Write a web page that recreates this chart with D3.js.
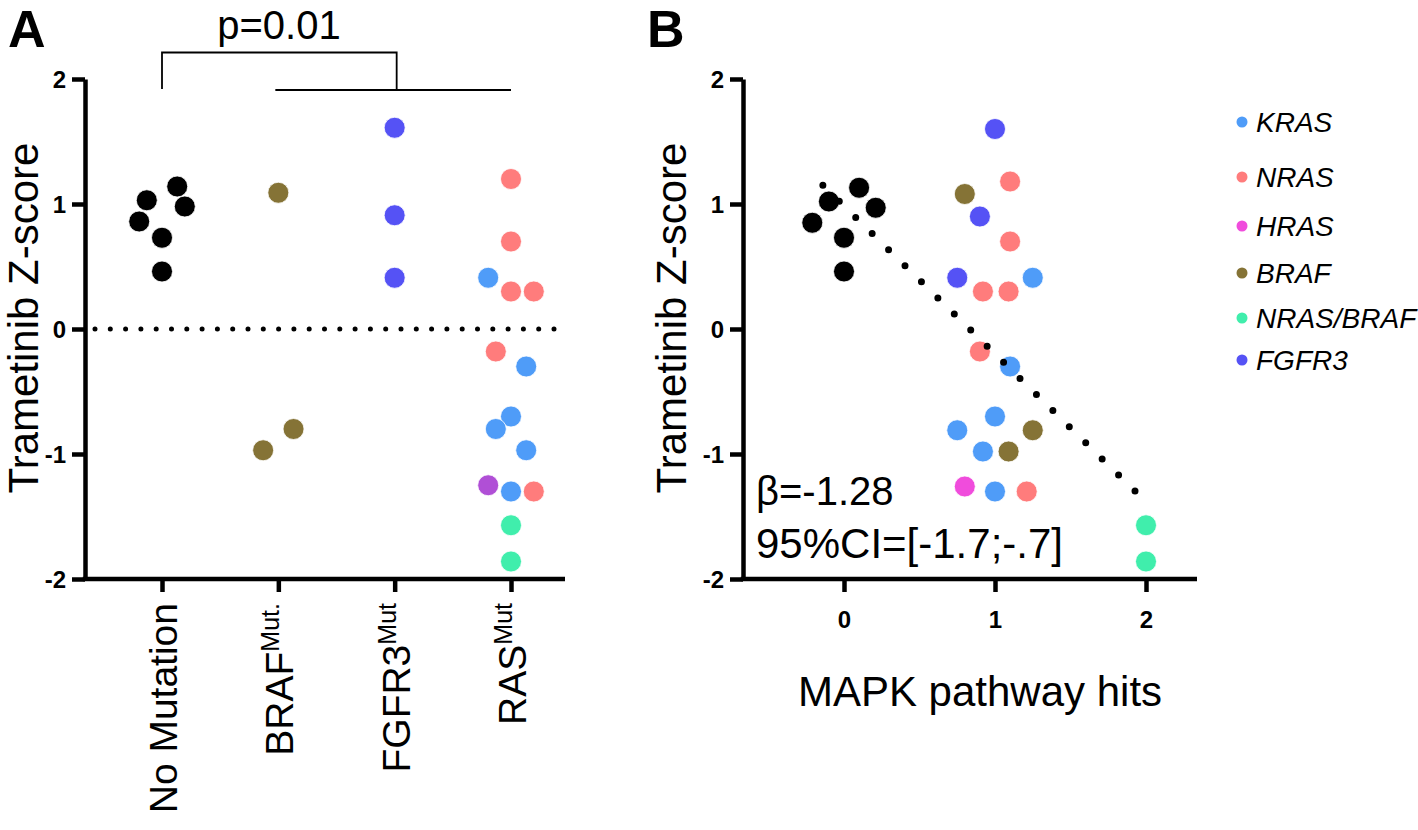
<!DOCTYPE html>
<html>
<head>
<meta charset="utf-8">
<script src="https://cdn.jsdelivr.net/npm/d3@7"></script>
<style>
  html, body { margin: 0; padding: 0; background: #fff; }
  svg { display: block; font-family: "Liberation Sans", Arial, sans-serif; }
</style>
</head>
<body>
<svg id="chart" width="1418" height="830"></svg>
<script>
// ---------------- DATA ----------------
const categoriesA = ["No Mutation", "BRAF", "FGFR3", "RAS"];
const categorySup = ["", "Mut.", "Mut", "Mut"];
const yTicks = [-2, -1, 0, 1, 2];
const xTicksB = [0, 1, 2];

// Panel A: group, within-group dodge slot, Z-score, gene
const groupA  = ["No Mutation","No Mutation","No Mutation","No Mutation","No Mutation","No Mutation",
                 "BRAF","BRAF","BRAF",
                 "FGFR3","FGFR3","FGFR3",
                 "RAS","RAS","RAS","RAS","RAS","RAS","RAS","RAS","RAS","RAS","RAS","RAS","RAS","RAS","RAS"];
const dodgeA  = [-2, 2, 3, -3, 0, 0,
                 0, 2, -2,
                 0, 0, 0,
                 0, 0, -3, 0, 3, -2, 2, 0, -2, 2, -3, 0, 3, 0, 0];
const zA      = [1.03, 1.14, 0.98, 0.86, 0.73, 0.46,
                 1.09, -0.80, -0.97,
                 1.61, 0.91, 0.41,
                 1.20, 0.70, 0.41, 0.30, 0.30, -0.18, -0.30, -0.70, -0.80, -0.97, -1.25, -1.30, -1.30, -1.57, -1.86];
const geneA   = ["None","None","None","None","None","None",
                 "BRAF","BRAF","BRAF",
                 "FGFR3","FGFR3","FGFR3",
                 "NRAS","NRAS","KRAS","NRAS","NRAS","NRAS","KRAS","KRAS","KRAS","KRAS","HRAS_A","KRAS","NRAS","NRAS/BRAF","NRAS/BRAF"];

// Panel B: MAPK pathway hits (jittered), Z-score, gene
const hitsB   = [-0.21, -0.10, 0.10, 0.21, 0.00, 0.00,
                 1.00, 1.10, 0.80, 0.90, 1.10, 0.75, 0.92, 1.09, 1.25,
                 0.90, 1.10, 1.00, 0.75, 1.25, 0.92, 1.09, 0.80, 1.00, 1.21,
                 2.00, 2.00];
const zB      = [0.85, 1.02, 1.13, 0.97, 0.73, 0.46,
                 1.60, 1.18, 1.08, 0.90, 0.70, 0.41, 0.30, 0.30, 0.41,
                 -0.18, -0.30, -0.70, -0.81, -0.81, -0.98, -0.98, -1.26, -1.30, -1.30,
                 -1.57, -1.86];
const geneB   = ["None","None","None","None","None","None",
                 "FGFR3","NRAS","BRAF","FGFR3","NRAS","FGFR3","NRAS","NRAS","KRAS",
                 "NRAS","KRAS","KRAS","KRAS","BRAF","KRAS","BRAF","HRAS","KRAS","NRAS",
                 "NRAS/BRAF","NRAS/BRAF"];

// regression fit line endpoints (hits, Z)
const fitX = [-0.14, 1.93];
const fitY = [1.15, -1.30];

const legendGenes = ["KRAS", "NRAS", "HRAS", "BRAF", "NRAS/BRAF", "FGFR3"];
const pValueText = "p=0.01";
const betaText = "β=-1.28";
const ciText = "95%CI=[-1.7;-.7]";

// ---------------- STYLE ----------------
const colors = {
  "None": "#000000",
  "KRAS": "#4f9cf8",
  "NRAS": "#ff7c7c",
  "HRAS": "#f04cdc",
  "HRAS_A": "#b04fd6",
  "BRAF": "#857336",
  "NRAS/BRAF": "#40eeac",
  "FGFR3": "#5552f5"
};
const legendYs = [122, 177, 226, 273, 318, 360];
const R = 10.5;
const AX = 4.5;

const svg = d3.select("#chart");

// ---------------- SCALES ----------------
const yA = d3.scaleLinear().domain([-2, 2]).range([579, 79]);
const xA = d3.scalePoint().domain(categoriesA).range([162, 511]);
const dodge = d3.scaleLinear().domain([0, 1]).range([0, 7.6]);
const yB = d3.scaleLinear().domain([-2, 2]).range([579, 79]);
const xB = d3.scaleLinear().domain([0, 2]).range([844, 1146]);

const axisLeftX_A = 85, axisLeftX_B = 743;
const axisRight_A = 565, axisRight_B = 1197;

function styleAxis(g) {
  g.selectAll(".domain").attr("stroke-width", AX).attr("stroke", "#000");
  g.selectAll(".tick line").attr("stroke-width", AX).attr("stroke", "#000");
  g.selectAll(".tick text")
    .attr("font-family", "'Liberation Sans', Arial, sans-serif")
    .attr("font-weight", "bold").attr("font-size", 24).attr("fill", "#000");
}

// ---------------- PANEL A ----------------
const gA = svg.append("g");

// y axis
const yAxisA = gA.append("g").attr("transform", `translate(${axisLeftX_A},0)`)
  .call(d3.axisLeft(yA).tickValues(yTicks).tickSize(13).tickSizeOuter(0).tickPadding(6).tickFormat(d => String(d)));
styleAxis(yAxisA);
yAxisA.selectAll(".tick text").attr("dy", "0.36em");

// x axis
const xAxisA = gA.append("g").attr("transform", `translate(0,${yA(-2)})`)
  .call(d3.axisBottom(xA).tickSize(13).tickSizeOuter(0).tickFormat(""));
xAxisA.select(".domain").remove();
styleAxis(xAxisA);
gA.append("line").attr("x1", axisLeftX_A - AX / 2).attr("x2", axisRight_A)
  .attr("y1", yA(-2)).attr("y2", yA(-2)).attr("stroke", "#000").attr("stroke-width", AX);

// category labels
categoriesA.forEach((c, i) => {
  const t = gA.append("text")
    .attr("transform", `translate(${xA(c) + 15},603) rotate(-90)`)
    .attr("text-anchor", "end").attr("font-size", 39).attr("fill", "#000");
  t.append("tspan").text(c);
  if (categorySup[i]) {
    t.append("tspan").attr("font-size", 25).attr("dy", -14).text(categorySup[i]);
  }
});

// zero dotted line
gA.append("line").attr("x1", axisLeftX_A + 10).attr("x2", 562)
  .attr("y1", yA(0)).attr("y2", yA(0))
  .attr("stroke", "#000").attr("stroke-width", 5).attr("stroke-linecap", "round")
  .attr("stroke-dasharray", "0 15.3");

// points
gA.append("g").selectAll("circle").data(zA.map((z, i) => i)).join("circle")
  .attr("cx", i => xA(groupA[i]) + dodge(dodgeA[i]))
  .attr("cy", i => yA(zA[i]))
  .attr("r", R)
  .attr("fill", i => colors[geneA[i]])
  .attr("stroke", "#fff").attr("stroke-width", 0.8);

// y label
gA.append("text").attr("transform", `translate(38,318) rotate(-90)`)
  .attr("text-anchor", "middle").attr("font-size", 42).text("Trametinib Z-score");

// significance bracket
const bx0 = xA("No Mutation"), bx1 = xA("BRAF") - 3, bx2 = xA("RAS");
const bMid = (xA("FGFR3") + 2);
gA.append("path")
  .attr("d", `M${bx0},89 V52.5 H${bMid} V90 M${bx1},90 H${bx2}`)
  .attr("fill", "none").attr("stroke", "#000").attr("stroke-width", 1.8);
gA.append("text").attr("x", 279).attr("y", 39).attr("text-anchor", "middle")
  .attr("font-size", 40).text(pValueText);

// panel letter
svg.append("text").attr("x", 8).attr("y", 47).attr("font-size", 52).attr("font-weight", "bold").text("A");

// ---------------- PANEL B ----------------
const gB = svg.append("g");

const yAxisB = gB.append("g").attr("transform", `translate(${axisLeftX_B},0)`)
  .call(d3.axisLeft(yB).tickValues(yTicks).tickSize(13).tickSizeOuter(0).tickPadding(6).tickFormat(d => String(d)));
styleAxis(yAxisB);
yAxisB.selectAll(".tick text").attr("dy", "0.36em");

const xAxisB = gB.append("g").attr("transform", `translate(0,${yB(-2)})`)
  .call(d3.axisBottom(xB).tickValues(xTicksB).tickSize(13).tickSizeOuter(0).tickPadding(19).tickFormat(d => String(d)));
xAxisB.select(".domain").remove();
styleAxis(xAxisB);
gB.append("line").attr("x1", axisLeftX_B - AX / 2).attr("x2", axisRight_B)
  .attr("y1", yB(-2)).attr("y2", yB(-2)).attr("stroke", "#000").attr("stroke-width", AX);

// points
gB.append("g").selectAll("circle").data(zB.map((z, i) => i)).join("circle")
  .attr("cx", i => xB(hitsB[i]))
  .attr("cy", i => yB(zB[i]))
  .attr("r", R)
  .attr("fill", i => colors[geneB[i]])
  .attr("stroke", "#fff").attr("stroke-width", 0.8);

// regression dotted line
gB.append("line")
  .attr("x1", xB(fitX[0])).attr("y1", yB(fitY[0]))
  .attr("x2", xB(fitX[1])).attr("y2", yB(fitY[1]))
  .attr("stroke", "#000").attr("stroke-width", 7).attr("stroke-linecap", "round")
  .attr("stroke-dasharray", "0 23");

// labels
gB.append("text").attr("transform", `translate(686,318) rotate(-90)`)
  .attr("text-anchor", "middle").attr("font-size", 42).text("Trametinib Z-score");
gB.append("text").attr("x", 980).attr("y", 706).attr("text-anchor", "middle")
  .attr("font-size", 42).text("MAPK pathway hits");
gB.append("text").attr("x", 756).attr("y", 505).attr("font-size", 40).text(betaText);
gB.append("text").attr("x", 756).attr("y", 558).attr("font-size", 42).text(ciText);

svg.append("text").attr("x", 647).attr("y", 47).attr("font-size", 52).attr("font-weight", "bold").text("B");

// legend
const lg = gB.append("g");
legendGenes.forEach((g, i) => {
  lg.append("circle").attr("cx", 1242).attr("cy", legendYs[i]).attr("r", 5.5).attr("fill", colors[g]);
  lg.append("text").attr("x", 1256).attr("y", legendYs[i]).attr("dy", "0.36em")
    .attr("font-size", 28).attr("font-style", "italic").text(g);
});
</script>
</body>
</html>
